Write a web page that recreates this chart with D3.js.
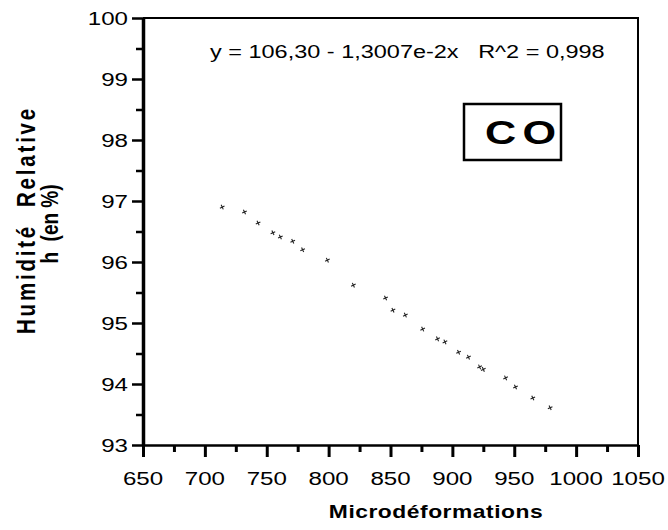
<!DOCTYPE html>
<html>
<head>
<meta charset="utf-8">
<script src="https://cdn.jsdelivr.net/npm/d3@7"></script>
<style>
    body { margin: 0; background: #fff; }
    svg { display: block; font-family: "Liberation Sans", Arial, sans-serif; }
</style>
</head>
<body>
<svg id="chart" width="668" height="530"></svg>
<script>
'use strict';

// Microdéformations (x) and relative humidity h in % (y)
const microDef = [714, 732, 743, 755, 761, 771, 779, 799, 820, 846, 852, 862,
    876, 888, 894, 905, 913, 922, 925, 943, 951, 965, 979];
const humidity = [96.90, 96.82, 96.64, 96.48, 96.41, 96.34, 96.20, 96.03, 95.62, 95.41, 95.21, 95.13,
    94.90, 94.74, 94.69, 94.52, 94.44, 94.28, 94.24, 94.10, 93.95, 93.77, 93.61];

const xTicks = [650, 700, 750, 800, 850, 900, 950, 1000, 1050];
const yTicks = [93, 94, 95, 96, 97, 98, 99, 100];
const equation = 'y = 106,30 - 1,3007e-2x   R^2 = 0,998';
const label = 'CO';

(function() {
    const d3 = window.d3;
    const svg = d3.select('#chart');
    const SX = 1.27; // the scan is stretched horizontally

    const x = d3.scaleLinear().domain([650, 1050]).range([143, 638]);
    const y = d3.scaleLinear().domain([93, 100]).range([445, 18]);

    // stretched text helper
    function stext(px, py, str, rot) {
        return svg.append('text')
            .attr('transform', 'translate(' + px + ',' + py + ') scale(' + SX + ',1)' + (rot ? ' rotate(' + rot + ')' : ''))
            .text(str);
    }

    // frame (top + right)
    svg.append('path')
        .attr('d', 'M' + x(650) + ',' + y(100) + 'H' + x(1050) + 'V' + y(93))
        .attr('fill', 'none')
        .attr('stroke', '#000')
        .attr('stroke-width', 2);

    // y axis
    const yAxis = svg.append('g')
        .attr('transform', 'translate(' + x(650) + ',0)')
        .call(d3.axisLeft(y).tickValues(d3.range(93, 100.01, 0.5)).tickSize(0).tickFormat(''));
    yAxis.select('.domain').attr('stroke-width', 3.5);
    yAxis.selectAll('.tick line')
        .attr('x2', d => Number.isInteger(d) ? -11 : -7)
        .attr('stroke-width', 2.5);

    // x axis
    const xAxis = svg.append('g')
        .attr('transform', 'translate(0,' + y(93) + ')')
        .call(d3.axisBottom(x).tickValues(d3.range(650, 1050.1, 25)).tickSize(0).tickFormat(''));
    xAxis.select('.domain').attr('stroke-width', 2.5);
    xAxis.selectAll('.tick line')
        .attr('y2', d => d % 50 === 0 ? 12 : 7)
        .attr('stroke-width', 3);

    // tick labels
    yTicks.forEach(v => {
        stext(128, y(v) + 7, v)
            .attr('text-anchor', 'end')
            .attr('font-size', 19);
    });
    xTicks.forEach(v => {
        stext(x(v), 485, v)
            .attr('text-anchor', 'middle')
            .attr('font-size', 19);
    });

    // axis titles
    stext(436, 518, 'Microdéformations')
        .attr('text-anchor', 'middle')
        .attr('font-size', 18)
        .attr('font-weight', 'bold')
        .attr('letter-spacing', 0.4);
    stext(35, 220, 'Humidité  Relative', -90)
        .attr('text-anchor', 'middle')
        .attr('font-size', 20.5)
        .attr('font-weight', 'bold')
        .attr('letter-spacing', 2.8)
        .style('white-space', 'pre');
    stext(58, 224, 'h  (en %)', -90)
        .attr('text-anchor', 'middle')
        .attr('font-size', 19)
        .attr('font-weight', 'bold')
        .style('white-space', 'pre');

    // equation
    stext(210, 58, equation)
        .attr('font-size', 18.5)
        .style('white-space', 'pre');

    // CO box
    svg.append('rect')
        .attr('x', 464).attr('y', 104)
        .attr('width', 97).attr('height', 56)
        .attr('fill', '#fff')
        .attr('stroke', '#000')
        .attr('stroke-width', 2.5);
    stext(485, 144, label)
        .attr('font-size', 34)
        .attr('font-weight', 'bold')
        .attr('letter-spacing', 5);

    // points
    const data = microDef.map((v, i) => ({x: v, y: humidity[i]}));
    const sym = d3.symbol().type(d3.symbolTimes).size(10);
    svg.append('g')
        .selectAll('path')
        .data(data)
        .enter()
        .append('path')
        .attr('transform', d => 'translate(' + x(d.x) + ',' + y(d.y) + ') rotate(20)')
        .attr('d', sym)
        .attr('stroke', '#222')
        .attr('stroke-width', 1.1)
        .attr('fill', 'none');
}());
</script>
</body>
</html>
